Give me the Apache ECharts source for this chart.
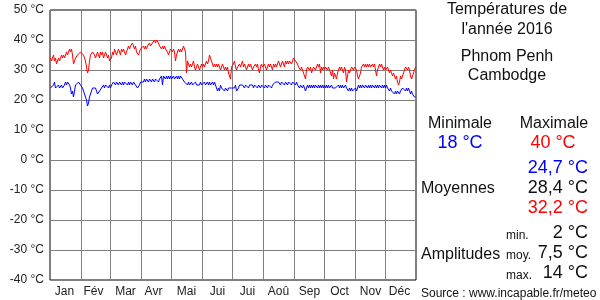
<!DOCTYPE html>
<html>
<head>
<meta charset="utf-8">
<script src="https://cdn.jsdelivr.net/npm/echarts@6/dist/echarts.min.js"></script>
<style>html,body{margin:0;padding:0;background:#fff}#c{width:600px;height:300px}</style>
</head>
<body>
<div id="c"></div>
<script>
const months = ['Jan','Fév','Mar','Avr','Mai','Jui','Jui','Aoû','Sep','Oct','Nov','Déc'];
const monthDays = [31,29,31,30,31,30,31,31,30,31,30,31];
const yMin = -40, yMax = 50, yStep = 10;

// Daily maximum temperatures (°C), 2016, month by month
const tMax = [
  34,33,34,35,33,34,32,33,34,33,34,35,34,35,34,35,36,35,36,37,36,37,35,32,33,34,34,35,35,35,36,
  36,36,35,34,33,31,29,30,33,35,35,36,36,35,34,35,36,35,34,36,35,36,34,35,36,35,34,35,33,
  33,34,36,35,37,36,35,36,37,36,35,37,36,37,36,35,36,37,38,37,38,38,39,38,37,38,36,36,35,36,37,
  37,37,38,37,38,37,38,38,39,38,38,39,39,40,39,40,40,39,38,38,37,38,37,38,37,37,36,35,36,37,
  37,36,37,36,33,35,36,37,36,37,36,37,38,38,36,29,33,32,31,32,31,32,33,31,30,31,32,31,30,31,32,
  31,32,31,32,33,32,33,35,34,33,32,31,32,31,32,31,32,31,30,31,32,31,30,31,30,31,29,28,27,31,
  31,32,33,31,30,31,31,32,31,32,33,31,32,31,30,31,32,31,32,31,30,31,31,32,31,32,30,29,31,32,31,
  31,32,31,30,31,32,31,32,31,30,32,31,32,31,32,33,32,31,32,33,32,31,33,32,33,32,33,33,32,33,34,
  34,33,33,32,31,31,30,31,30,30,30,27,30,31,31,30,31,29,30,31,31,30,31,32,31,32,29,31,30,31,
  30,31,31,30,31,30,29,28,30,27,29,28,27,29,30,31,30,31,30,29,31,30,26,28,30,29,30,31,31,30,31,
  31,30,28,27,27,29,31,31,32,31,32,31,32,31,32,31,31,32,31,32,30,28,30,31,32,31,32,31,30,31,
  30,30,31,30,29,30,29,28,29,28,27,28,26,25,26,28,27,28,29,30,31,31,30,31,30,28,27,28,29,30,31
];
// Daily minimum temperatures (°C), 2016, month by month
const tMin = [
  24,24,24,25,26,24,24,24,25,24,24,25,24,24,25,26,25,26,26,25,24,22,23,21,23,25,25,25,26,26,25,
  25,24,23,22,21,20,18,19,21,22,23,24,24,24,24,23,22,22,23,23,24,24,25,24,25,25,25,24,25,
  24,25,25,26,26,25,26,26,25,26,26,25,26,25,26,26,26,25,26,25,26,26,25,26,26,25,25,24,24,25,26,
  26,26,26,27,26,27,27,26,27,27,26,27,27,26,27,27,27,26,27,27,28,25,28,28,27,28,27,28,27,28,
  27,27,28,27,27,28,27,28,27,28,28,27,27,26,26,26,25,26,25,25,26,25,25,25,26,25,25,25,25,26,25,
  25,25,26,25,25,26,25,26,25,25,26,25,26,25,24,23,24,23,25,24,24,24,23,24,24,23,24,24,24,24,
  24,24,24,25,23,23,24,25,25,25,25,25,24,25,25,25,24,25,25,25,25,24,25,25,25,24,25,25,24,25,25,
  25,24,25,25,24,25,25,25,24,25,25,25,26,26,26,26,26,25,26,26,26,25,26,26,25,26,26,26,25,26,26,
  26,25,26,25,25,24,25,25,24,25,25,23,24,25,24,25,24,25,24,25,24,25,25,24,25,24,25,24,25,24,
  25,24,25,24,25,24,24,25,24,24,24,24,24,24,25,24,25,24,25,24,24,25,24,24,23,24,23,24,23,23,23,
  24,23,24,25,24,25,24,25,25,24,25,25,24,25,24,25,24,25,25,24,25,24,25,24,25,25,24,25,24,25,
  24,25,24,24,23,24,23,23,23,22,23,22,23,23,22,23,23,24,24,24,23,24,23,24,23,22,23,22,22,21,21
];

const titleLines = ['Températures de', "l'année 2016"];
const placeLines = ['Phnom Penh', 'Cambodge'];
const statMin = '18 °C', statMax = '40 °C';
const avgMin = '24,7 °C', avgAll = '28,4 °C', avgMax = '32,2 °C';
const ampMin = '2 °C', ampAvg = '7,5 °C', ampMax = '14 °C';
const sourceText = 'Source : www.incapable.fr/meteo';

// month start indices and label indices
const monthStart = [];
const labelIdx = {};
let acc = 0;
const labelOffset = [14,12,15,12,15,15,15,15,15,15,15,14];
monthDays.forEach((d, i) => { monthStart.push(acc); labelIdx[acc + labelOffset[i]] = months[i]; acc += d; });
const startSet = new Set(monthStart.slice(1));
const days = tMax.map((_, i) => String(i));

const FONT = '"Liberation Sans", Arial, sans-serif';
const txt = (x, y, text, size, color, align) => ({
  type: 'text', x, y, silent: true,
  style: { text, font: size + 'px ' + FONT, fill: color, align: align || 'center', verticalAlign: 'middle' }
});

const chart = echarts.init(document.getElementById('c'), null, { renderer: 'canvas' });
chart.setOption({
  animation: false,
  backgroundColor: '#fff',
  grid: { left: 50, right: 184, top: 10, bottom: 20, show: true, borderColor: '#000', borderWidth: 1, backgroundColor: 'transparent' },
  xAxis: {
    type: 'category', data: days, boundaryGap: true,
    axisLine: { show: false }, axisTick: { show: false },
    splitLine: { show: true, interval: (i) => startSet.has(i), lineStyle: { color: '#808080', width: 1 } },
    axisLabel: {
      interval: (i) => labelIdx[i] !== undefined,
      formatter: (v, i) => labelIdx[i] || '',
      color: '#222', fontSize: 12, fontFamily: FONT, margin: 6
    }
  },
  yAxis: {
    type: 'value', min: yMin, max: yMax, interval: yStep,
    axisLine: { show: false }, axisTick: { show: false },
    splitLine: { show: true, lineStyle: { color: '#808080', width: 1 } },
    axisLabel: { formatter: '{value} °C', color: '#222', fontSize: 12, fontFamily: FONT, margin: 6 }
  },
  series: [
    { type: 'line', data: tMax, showSymbol: false, symbol: 'none', lineStyle: { color: '#ff0000', width: 1 }, z: 3 },
    { type: 'line', data: tMin, showSymbol: false, symbol: 'none', lineStyle: { color: '#0000ff', width: 1 }, z: 3 }
  ],
  graphic: [
    txt(507, 10, titleLines[0], 16, '#111'),
    txt(507, 30, titleLines[1], 16, '#111'),
    txt(507, 57, placeLines[0], 16, '#111'),
    txt(507, 76, placeLines[1], 16, '#111'),
    txt(460, 124, 'Minimale', 16, '#111'),
    txt(554, 124, 'Maximale', 16, '#111'),
    txt(460, 143, statMin, 18, '#0000ff'),
    txt(553, 143, statMax, 18, '#ff0000'),
    txt(588, 168, avgMin, 18, '#0000ff', 'right'),
    txt(421, 189, 'Moyennes', 16, '#111', 'left'),
    txt(588, 188, avgAll, 18, '#111', 'right'),
    txt(588, 208, avgMax, 18, '#ff0000', 'right'),
    txt(421, 255, 'Amplitudes', 16, '#111', 'left'),
    txt(506, 236, 'min.', 12, '#111', 'left'),
    txt(588, 233, ampMin, 18, '#111', 'right'),
    txt(506, 256, 'moy.', 12, '#111', 'left'),
    txt(588, 253, ampAvg, 18, '#111', 'right'),
    txt(506, 276, 'max.', 12, '#111', 'left'),
    txt(588, 273, ampMax, 18, '#111', 'right'),
    txt(421, 294, sourceText, 12, '#111', 'left')
  ]
});
</script>
</body>
</html>
